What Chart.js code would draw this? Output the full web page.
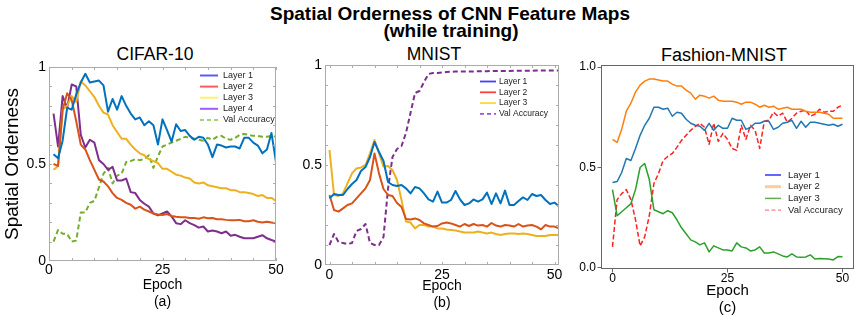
<!DOCTYPE html>
<html>
<head>
<meta charset="utf-8">
<script src="https://cdn.jsdelivr.net/npm/chart.js"></script>
<style>
  html, body { margin:0; padding:0; background:#fff; }
  body { width:856px; height:323px; position:relative; overflow:hidden;
         font-family:"Liberation Sans", Arial, Helvetica, sans-serif; color:#000; }
  .t { position:absolute; white-space:nowrap; line-height:1; transform:translate(-50%,-50%); }
  canvas { position:absolute; }
</style>
</head>
<body>
<div class="t" style="left:450px;top:13.4px;font-size:19px;font-weight:bold;">Spatial Orderness of CNN Feature Maps</div>
<div class="t" style="left:451px;top:29.6px;font-size:19px;font-weight:bold;">(while training)</div>
<div class="t" style="left:155px;top:55px;font-size:17.5px;">CIFAR-10</div>
<div class="t" style="left:434px;top:55px;font-size:17.5px;">MNIST</div>
<div class="t" style="left:724px;top:54.8px;font-size:18px;">Fashion-MNIST</div>

<canvas id="ca" width="290" height="283" style="left:0px;top:40px;"></canvas>
<canvas id="cb" width="285" height="283" style="left:290px;top:40px;"></canvas>
<canvas id="cc" width="281" height="283" style="left:575px;top:40px;"></canvas>

<script>
// ---------------- DATA ----------------
// (a) CIFAR-10
const A_EPOCHS = [1,2,3,4,5,6,7,8,9,10,11,12,13,14,15,16,17,18,19,20,21,22,23,24,25,26,27,28,29,30,31,32,33,34,35,36,37,38,39,40,41,42,43,44,45,46,47,48,49,50];
const A_L1 = [0.55,0.53,0.62,0.79,0.78,0.86,0.92,0.965,0.92,0.925,0.93,0.905,0.77,0.835,0.78,0.85,0.80,0.76,0.73,0.74,0.70,0.72,0.70,0.60,0.73,0.675,0.615,0.705,0.67,0.675,0.645,0.625,0.64,0.635,0.60,0.535,0.60,0.595,0.585,0.59,0.59,0.58,0.635,0.635,0.61,0.595,0.555,0.575,0.66,0.51];
const A_L2 = [0.50,0.49,0.78,0.865,0.83,0.72,0.60,0.575,0.52,0.47,0.42,0.41,0.385,0.35,0.325,0.315,0.30,0.29,0.27,0.28,0.265,0.255,0.245,0.24,0.237,0.242,0.232,0.228,0.225,0.225,0.222,0.222,0.218,0.225,0.22,0.222,0.215,0.215,0.212,0.21,0.21,0.212,0.205,0.205,0.21,0.202,0.198,0.202,0.198,0.195];
const A_L3 = [0.47,0.49,0.78,0.80,0.85,0.82,0.925,0.905,0.875,0.845,0.80,0.765,0.755,0.70,0.665,0.63,0.63,0.60,0.575,0.555,0.545,0.525,0.515,0.505,0.475,0.475,0.46,0.445,0.44,0.43,0.425,0.405,0.40,0.405,0.39,0.385,0.38,0.375,0.375,0.365,0.365,0.355,0.355,0.35,0.345,0.335,0.34,0.325,0.325,0.31];
const A_L4 = [0.76,0.59,0.85,0.79,0.91,0.90,0.65,0.585,0.625,0.61,0.52,0.50,0.47,0.485,0.415,0.415,0.425,0.355,0.35,0.315,0.295,0.28,0.245,0.235,0.245,0.255,0.23,0.195,0.19,0.21,0.195,0.185,0.172,0.178,0.152,0.157,0.152,0.143,0.152,0.13,0.135,0.125,0.117,0.117,0.117,0.125,0.133,0.117,0.108,0.10];
const A_VAL = [0.10,0.16,0.14,0.14,0.10,0.105,0.25,0.25,0.30,0.31,0.38,0.45,0.48,0.40,0.44,0.45,0.51,0.515,0.525,0.52,0.525,0.545,0.48,0.54,0.59,0.60,0.61,0.62,0.63,0.64,0.635,0.63,0.625,0.62,0.635,0.625,0.64,0.645,0.63,0.625,0.635,0.65,0.655,0.65,0.645,0.645,0.64,0.64,0.645,0.64];

// (b) MNIST
const B_EPOCHS = [0,1,2,3,4,5,6,7,8,9,10,11,12,13,14,15,16,17,18,19,20,21,22,23,24,25,26,27,28,29,30,31,32,33,34,35,36,37,38,39,40,41,42,43,44,45,46,47,48,49,50,51];
const B_L1 = [0.333,0.355,0.35,0.35,0.38,0.405,0.425,0.47,0.49,0.54,0.615,0.565,0.52,0.415,0.40,0.395,0.40,0.383,0.358,0.39,0.383,0.358,0.328,0.317,0.367,0.312,0.312,0.325,0.37,0.328,0.30,0.308,0.328,0.317,0.328,0.362,0.305,0.358,0.308,0.372,0.30,0.30,0.32,0.338,0.325,0.355,0.345,0.35,0.325,0.305,0.312,0.292];
const B_L2 = [0.35,0.275,0.267,0.283,0.30,0.308,0.333,0.358,0.383,0.425,0.558,0.458,0.38,0.35,0.345,0.31,0.29,0.23,0.228,0.233,0.225,0.208,0.20,0.192,0.195,0.208,0.212,0.208,0.20,0.192,0.205,0.195,0.205,0.197,0.20,0.192,0.21,0.197,0.192,0.20,0.197,0.192,0.205,0.192,0.197,0.20,0.192,0.178,0.20,0.192,0.192,0.183];
const B_L3 = [0.575,0.35,0.345,0.358,0.408,0.458,0.483,0.488,0.50,0.558,0.625,0.558,0.492,0.495,0.475,0.425,0.325,0.217,0.212,0.183,0.20,0.20,0.192,0.192,0.183,0.183,0.178,0.175,0.172,0.167,0.162,0.162,0.162,0.167,0.162,0.158,0.162,0.155,0.15,0.155,0.158,0.158,0.155,0.158,0.155,0.15,0.145,0.145,0.145,0.15,0.15,0.15];
const B_VAL = [0.10,0.155,0.115,0.11,0.105,0.11,0.17,0.18,0.205,0.11,0.10,0.10,0.14,0.38,0.54,0.58,0.595,0.66,0.76,0.86,0.87,0.915,0.955,0.96,0.96,0.963,0.965,0.966,0.967,0.967,0.968,0.968,0.968,0.969,0.969,0.969,0.97,0.97,0.97,0.97,0.97,0.971,0.971,0.971,0.971,0.971,0.972,0.972,0.972,0.972,0.972,0.972];

// (c) Fashion-MNIST
const C_EPOCHS = [0,1,2,3,4,5,6,7,8,9,10,11,12,13,14,15,16,17,18,19,20,21,22,23,24,25,26,27,28,29,30,31,32,33,34,35,36,37,38,39,40,41,42,43,44,45,46,47,48,49,50];
const C_L1 = [0.425,0.43,0.475,0.545,0.535,0.595,0.66,0.71,0.745,0.80,0.80,0.79,0.795,0.755,0.775,0.77,0.74,0.72,0.71,0.705,0.685,0.72,0.685,0.71,0.695,0.695,0.745,0.735,0.735,0.69,0.70,0.72,0.72,0.73,0.73,0.69,0.70,0.72,0.725,0.735,0.695,0.73,0.70,0.725,0.725,0.72,0.715,0.71,0.715,0.705,0.715];
const C_L2 = [0.64,0.625,0.69,0.78,0.82,0.875,0.91,0.93,0.94,0.94,0.935,0.93,0.93,0.915,0.905,0.905,0.885,0.87,0.84,0.86,0.855,0.845,0.855,0.835,0.83,0.83,0.83,0.825,0.815,0.825,0.825,0.815,0.80,0.81,0.80,0.805,0.79,0.795,0.80,0.79,0.79,0.79,0.78,0.775,0.775,0.775,0.77,0.765,0.745,0.745,0.745];
const C_L3 = [0.39,0.26,0.28,0.30,0.32,0.39,0.50,0.52,0.44,0.29,0.28,0.27,0.285,0.275,0.24,0.20,0.17,0.14,0.13,0.115,0.125,0.08,0.11,0.10,0.09,0.09,0.085,0.125,0.105,0.10,0.085,0.09,0.105,0.075,0.075,0.08,0.07,0.06,0.055,0.07,0.055,0.053,0.055,0.065,0.045,0.047,0.046,0.045,0.04,0.057,0.056];
const C_VAL = [0.105,0.34,0.37,0.39,0.34,0.24,0.11,0.155,0.26,0.42,0.47,0.535,0.555,0.57,0.60,0.635,0.66,0.685,0.705,0.72,0.70,0.615,0.72,0.63,0.67,0.64,0.595,0.585,0.71,0.64,0.71,0.685,0.595,0.73,0.735,0.775,0.755,0.77,0.725,0.745,0.77,0.78,0.785,0.755,0.765,0.79,0.775,0.78,0.78,0.80,0.81];

// tick values
const X_TICKS = [0, 25, 50];
const Y_TICKS = [0, 0.5, 1];
const X_MINOR = [0,5,10,15,20,25,30,35,40,45,50];
const Y_MINOR = [0.1,0.2,0.3,0.4,0.5,0.6,0.7,0.8,0.9];

// ---------------- RENDERING ----------------
Chart.defaults.font.family = '"Liberation Sans", Arial, Helvetica, sans-serif';
Chart.defaults.color = '#000';

function pts(xs, ys) { return xs.map((x, i) => ({ x: x, y: ys[i] })); }

const framePlugin = {
  id: 'frame',
  afterDatasetsDraw(chart, args, o) {
    const { ctx, chartArea: a, scales } = chart;
    ctx.save();
    ctx.setLineDash([]);
    ctx.strokeStyle = o.color;
    ctx.lineWidth = 1;
    ctx.strokeRect(a.left + 0.5, a.top + 0.5, a.right - a.left - 1, a.bottom - a.top - 1);
    ctx.beginPath();
    (o.minorX || []).forEach(v => {
      const p = Math.round(scales.x.getPixelForValue(v)) + 0.5;
      ctx.moveTo(p, a.top); ctx.lineTo(p, a.top + o.len);
      ctx.moveTo(p, a.bottom); ctx.lineTo(p, a.bottom - o.len);
    });
    (o.minorY || []).forEach(v => {
      const p = Math.round(scales.y.getPixelForValue(v)) + 0.5;
      ctx.moveTo(a.left, p); ctx.lineTo(a.left + o.len, p);
      ctx.moveTo(a.right, p); ctx.lineTo(a.right - o.len, p);
    });
    ctx.stroke();
    ctx.restore();
  }
};

const legendPlugin = {
  id: 'innerLegend',
  afterDraw(chart, args, o) {
    const ctx = chart.ctx;
    ctx.save();
    ctx.font = o.font;
    ctx.textBaseline = 'middle';
    ctx.textAlign = 'left';
    chart.data.datasets.forEach((ds, i) => {
      const y = o.y + i * o.step;
      const it = o.items[i];
      ctx.beginPath();
      ctx.setLineDash(it.dash || []);
      ctx.strokeStyle = it.color;
      ctx.lineWidth = it.width;
      ctx.moveTo(o.x1, y); ctx.lineTo(o.x2, y);
      ctx.stroke();
      ctx.setLineDash([]);
      ctx.fillStyle = o.textColor;
      ctx.fillText(ds.label, o.tx, y);
    });
    ctx.restore();
  }
};

function build(id, c) {
  const datasets = c.series.map(s => ({
    label: s.label,
    data: pts(c.epochs, s.values),
    borderColor: s.color,
    backgroundColor: s.color,
    borderWidth: c.lineWidth,
    borderDash: s.dash || [],
    pointRadius: 0,
    pointHoverRadius: 0,
    fill: false,
    tension: 0,
    borderJoinStyle: 'round'
  }));
  const gridOpt = c.outTicks
    ? { display: true, drawOnChartArea: false, drawTicks: true, tickLength: 3.5, color: c.frameColor, lineWidth: 1 }
    : { display: false, drawTicks: false, tickLength: 0 };
  return new Chart(document.getElementById(id), {
    type: 'line',
    data: { datasets },
    plugins: [framePlugin, legendPlugin],
    options: {
      responsive: false,
      animation: false,
      devicePixelRatio: 1,
      events: [],
      layout: { padding: { left: 0, right: c.padRight, top: c.padTop, bottom: 0 } },
      plugins: {
        legend: { display: false },
        title: { display: false },
        tooltip: { enabled: false },
        frame: { color: c.frameColor, len: 3, minorX: c.minorX, minorY: c.minorY },
        innerLegend: c.legend
      },
      scales: {
        x: {
          type: 'linear', min: c.xMin, max: c.xMax,
          afterBuildTicks: s => { s.ticks = X_TICKS.map(v => ({ value: v })); },
          afterFit: s => { s.height = c.xHeight; },
          grid: gridOpt,
          border: { display: false },
          ticks: { font: { size: c.tickSize }, color: '#000', padding: c.xTickPad, maxRotation: 0, autoSkip: false },
          title: { display: true, text: ['Epoch', c.letter], color: '#000',
                   font: { size: c.xTitleSize, lineHeight: c.xTitleLH }, padding: { top: 0, bottom: c.xTitlePad } }
        },
        y: {
          type: 'linear', min: c.yMin, max: c.yMax,
          afterBuildTicks: s => { s.ticks = Y_TICKS.map(v => ({ value: v })); },
          afterFit: s => { s.width = c.yWidth; },
          grid: gridOpt,
          border: { display: false },
          ticks: { font: { size: c.tickSize }, color: '#000', padding: c.yTickPad, autoSkip: false,
                   callback: c.yFmt || undefined },
          title: c.yTitle ? { display: true, text: c.yTitle, color: '#000', font: { size: 19 }, padding: { top: 1.5, bottom: 0 } } : { display: false }
        }
      }
    }
  });
}

const MAT = ['#0072BD', '#D95319', '#EDB120', '#7E2F8E', '#77AC30'];

build('ca', {
  epochs: A_EPOCHS, lineWidth: 2,
  series: [
    { label: 'Layer 1', values: A_L1, color: MAT[0] },
    { label: 'Layer 2', values: A_L2, color: MAT[1] },
    { label: 'Layer 3', values: A_L3, color: MAT[2] },
    { label: 'Layer 4', values: A_L4, color: MAT[3] },
    { label: 'Val Accuracy', values: A_VAL, color: MAT[4], dash: [5, 3] }
  ],
  padRight: 14, padTop: 27, xHeight: 62, yWidth: 49,
  xMin: 0, xMax: 50, yMin: 0, yMax: 1,
  tickSize: 14, xTickPad: 1, yTickPad: 3,
  letter: '(a)', xTitleSize: 14, xTitleLH: 1.2, xTitlePad: 12.5,
  yTitle: 'Spatial Orderness',
  frameColor: '#ababab', minorX: X_MINOR, minorY: Y_MINOR, outTicks: false,
  legend: { x1: 200, x2: 218, tx: 223, y: 35.5, step: 11.1, font: '9px "Liberation Sans", Arial, sans-serif', textColor: '#222',
            items: [ { color: '#5a5aff', width: 2 }, { color: '#ff5a5a', width: 2 }, { color: '#fff06a', width: 2 },
                     { color: '#a05aff', width: 2 }, { color: '#a5d07a', width: 2, dash: [4, 3] } ] }
});

build('cb', {
  epochs: B_EPOCHS, lineWidth: 2,
  series: [
    { label: 'Layer 1', values: B_L1, color: MAT[0] },
    { label: 'Layer 2', values: B_L2, color: MAT[1] },
    { label: 'Layer 3', values: B_L3, color: MAT[2] },
    { label: 'Val Accuracy', values: B_VAL, color: MAT[3], dash: [5, 3] }
  ],
  padRight: 16, padTop: 25, xHeight: 58, yWidth: 35,
  xMin: -1, xMax: 51, yMin: 0, yMax: 1,
  tickSize: 14, xTickPad: 2, yTickPad: 3,
  letter: '(b)', xTitleSize: 14, xTitleLH: 1.2, xTitlePad: 11.5,
  yTitle: null,
  frameColor: '#ababab', minorX: X_MINOR, minorY: Y_MINOR, outTicks: false,
  legend: { x1: 190, x2: 206, tx: 209, y: 41.5, step: 10.8, font: '8.5px "Liberation Sans", Arial, sans-serif', textColor: '#222',
            items: [ { color: '#4040ff', width: 1.8 }, { color: '#ff4040', width: 1.8 }, { color: '#ffdd22', width: 1.8 },
                     { color: '#9a50e0', width: 1.8, dash: [4, 3] } ] }
});

build('cc', {
  epochs: C_EPOCHS, lineWidth: 1.5,
  series: [
    { label: 'Layer 1', values: C_L1, color: '#1f77b4' },
    { label: 'Layer 2', values: C_L2, color: '#ff7f0e' },
    { label: 'Layer 3', values: C_L3, color: '#2ca02c' },
    { label: 'Val Accuracy', values: C_VAL, color: '#ff2020', dash: [5, 2.5] }
  ],
  padRight: 2, padTop: 25, xHeight: 54, yWidth: 26,
  xMin: -2.5, xMax: 52.5, yMin: -0.005, yMax: 1.01,
  tickSize: 12, xTickPad: -1.2, yTickPad: 1.5,
  yFmt: v => v.toFixed(1),
  letter: '(c)', xTitleSize: 15, xTitleLH: 1.1, xTitlePad: 7.2,
  yTitle: null,
  frameColor: '#666666', minorX: [], minorY: [], outTicks: true,
  legend: { x1: 190, x2: 206, tx: 213, y: 135, step: 11.7, font: '9.5px "Liberation Sans", Arial, sans-serif', textColor: '#222',
            items: [ { color: '#3333ff', width: 1.5 }, { color: '#ffcc99', width: 3 }, { color: '#66aa55', width: 1.5 },
                     { color: '#ff8080', width: 1.2, dash: [4, 2.5] } ] }
});
</script>
</body>
</html>
